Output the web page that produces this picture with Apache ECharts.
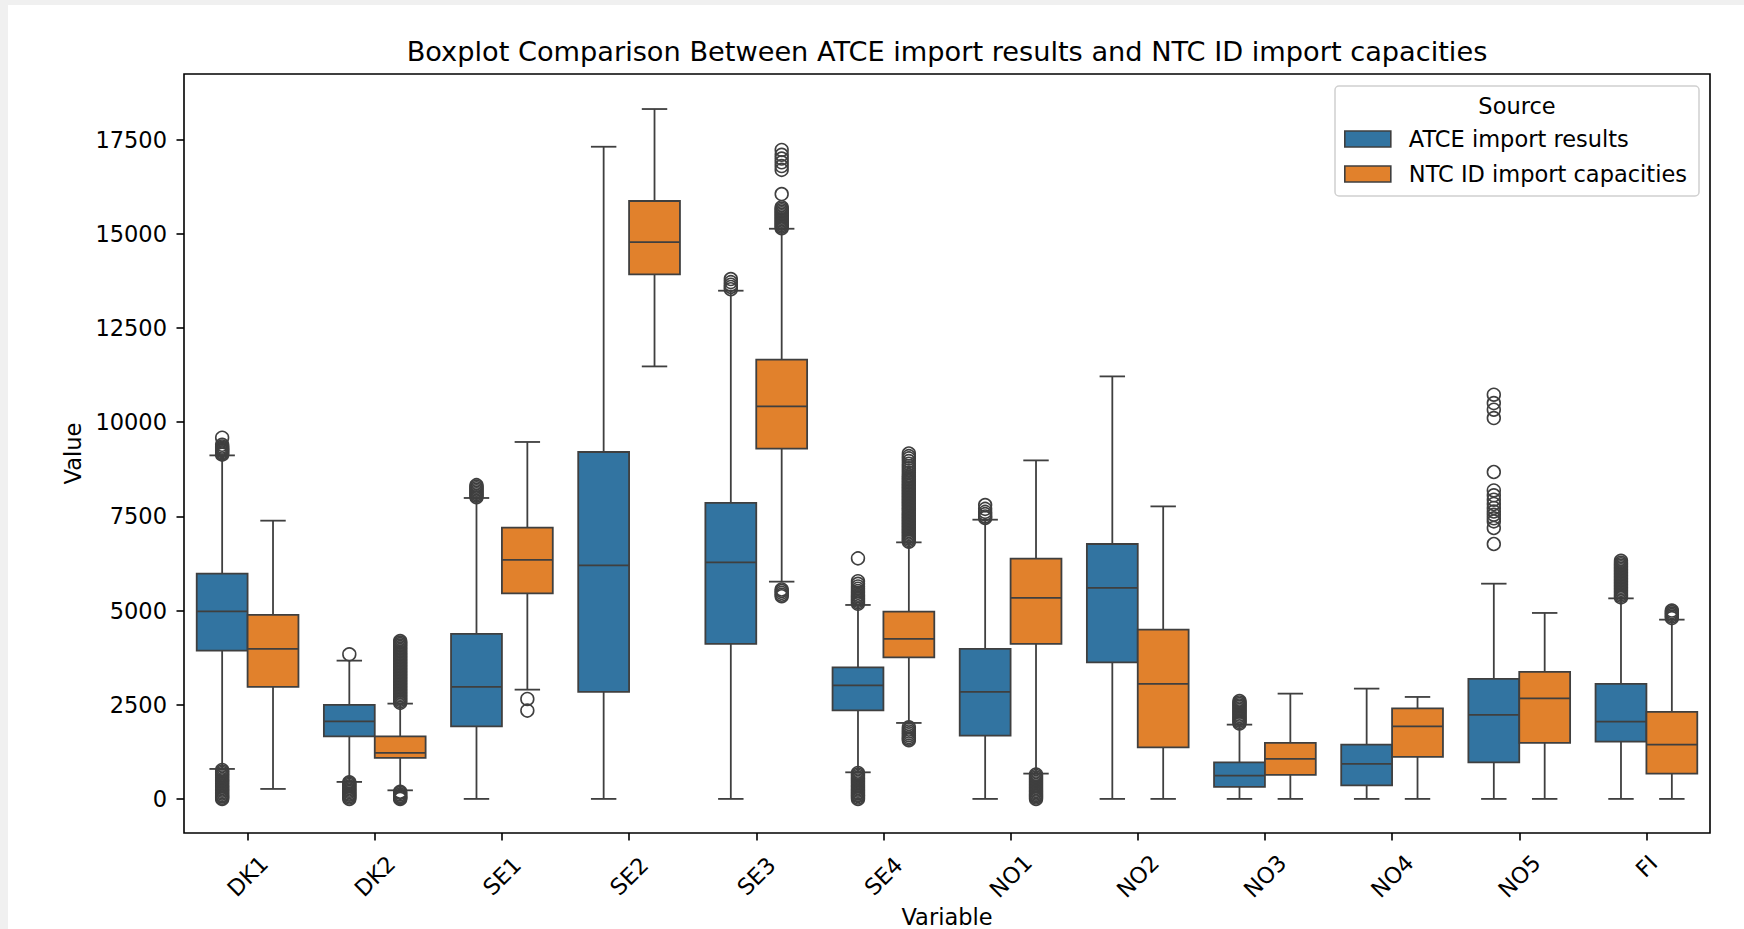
<!DOCTYPE html>
<html>
<head>
<meta charset="utf-8">
<title>Boxplot Comparison Between ATCE import results and NTC ID import capacities</title>
<script src="https://cdn.jsdelivr.net/npm/echarts@6/dist/echarts.min.js"></script>
<style>
  html, body { margin: 0; padding: 0; width: 1744px; height: 929px; overflow: hidden; background: #f0f0f0; }
  #chart { position: absolute; left: 8px; top: 5px; width: 1736px; height: 924px; background: #ffffff; }
</style>
</head>
<body>
<div id="chart"></div>
<script>
// Bidding zones on the x axis
const categories = ['DK1', 'DK2', 'SE1', 'SE2', 'SE3', 'SE4', 'NO1', 'NO2', 'NO3', 'NO4', 'NO5', 'FI'];
const sources = ['ATCE import results', 'NTC ID import capacities'];
const yTicks = [0, 2500, 5000, 7500, 10000, 12500, 15000, 17500];

// ATCE import results: whisker ends, quartiles and median per zone
const atceLow    = [796, 451, 0, 0, 0, 706, 0, 0, 0, 0, 0, 0];
const atceQ1     = [3936, 1662, 1927, 2840, 4114, 2352, 1680, 3626, 318, 361, 971, 1521];
const atceMedian = [4980, 2060, 2973, 6200, 6280, 3015, 2840, 5600, 618, 929, 2230, 2052];
const atceQ3     = [5980, 2495, 4380, 9210, 7857, 3493, 3981, 6768, 971, 1441, 3185, 3052];
const atceHigh   = [9120, 3671, 7989, 17314, 13492, 5149, 7413, 11217, 1972, 2928, 5714, 5324];

// NTC ID import capacities: whisker ends, quartiles and median per zone
const ntcLow    = [265, 228, 2901, 11482, 5768, 2017, 672, 0, 0, 0, 0, 0];
const ntcQ1     = [2973, 1088, 5457, 13925, 9298, 3759, 4114, 1370, 637, 1115, 1486, 672];
const ntcMedian = [3981, 1221, 6344, 14784, 10421, 4247, 5335, 3052, 1062, 1927, 2670, 1441];
const ntcQ3     = [4884, 1662, 7201, 15873, 11660, 4971, 6378, 4494, 1486, 2405, 3371, 2309];
const ntcHigh   = [7387, 2530, 9476, 18315, 15137, 6811, 8987, 7766, 2795, 2707, 4937, 4759];

// Points beyond the whiskers, one list per zone
const atceOutliers = [
  [0, 30, 65, 100, 140, 175, 215, 250, 290, 330, 365, 410, 450, 490, 525, 570, 610, 645, 690, 730, 770,
   9140, 9170, 9200, 9235, 9260, 9290, 9320, 9355, 9400, 9590],
  [0, 35, 70, 110, 140, 180, 215, 250, 290, 330, 370, 405, 440, 3838],
  [8010, 8050, 8090, 8130, 8170, 8210, 8250, 8290, 8330],
  [],
  [13530, 13590, 13650, 13720, 13800],
  [0, 35, 75, 105, 145, 175, 215, 250, 290, 330, 365, 410, 450, 490, 530, 565, 610, 650, 690,
   5180, 5220, 5260, 5300, 5340, 5380, 5420, 5470, 5520, 5580, 5640, 5710, 5780, 6386],
  [7460, 7500, 7560, 7620, 7700, 7800],
  [],
  [2000, 2040, 2080, 2120, 2160, 2200, 2240, 2285, 2320, 2360, 2400, 2445, 2480, 2520, 2560, 2600],
  [],
  [6768, 7193, 7368, 7450, 7546, 7630, 7724, 7830, 7944, 8060, 8190, 8679, 10111, 10333, 10508, 10731],
  [5350, 5390, 5430, 5470, 5510, 5550, 5590, 5630, 5670, 5710, 5750, 5790, 5830, 5870, 5910, 5950,
   5990, 6030, 6070, 6110, 6150, 6190, 6230, 6270, 6320]
];
const ntcOutliers = [
  [],
  [0, 25, 50, 80, 120, 160, 190,
   2550, 2590, 2630, 2670, 2710, 2750, 2790, 2830, 2870, 2910, 2950, 2990, 3030, 3070, 3110, 3150,
   3190, 3230, 3270, 3310, 3350, 3390, 3430, 3470, 3510, 3550, 3590, 3630, 3670, 3710, 3750, 3790,
   3830, 3870, 3910, 3950, 3990, 4030, 4070, 4110, 4150, 4190],
  [2344, 2654],
  [],
  [5380, 5420, 5470, 5520, 5560,
   15150, 15190, 15230, 15270, 15310, 15350, 15390, 15430, 15470, 15510, 15550, 15590, 15630, 15670, 15710,
   16058, 16700, 16800, 16900, 17000, 17100, 17230],
  [1560, 1600, 1640, 1690, 1740, 1790, 1840, 1900,
   6830, 6870, 6910, 6950, 6990, 7030, 7070, 7110, 7150, 7190, 7230, 7270, 7310, 7350, 7390, 7430,
   7470, 7510, 7550, 7590, 7630, 7670, 7710, 7750, 7790, 7830, 7870, 7910, 7950, 7990, 8030, 8070,
   8110, 8150, 8190, 8230, 8270, 8310, 8350, 8390, 8430, 8470, 8510, 8550,
   8600, 8660, 8720, 8780, 8840, 8900, 8970, 9040, 9100, 9170],
  [0, 35, 70, 105, 140, 175, 210, 250, 290, 330, 370, 410, 450, 490, 530, 570, 610, 650],
  [],
  [],
  [],
  [],
  [4800, 4840, 4880, 4920, 4960, 5000]
];

const FONT = 'DejaVu Sans';
const BOX_COLORS = ['#3274a1', '#e1812c'];
const LINE = '#3f3f3f';
const LW = 1.8;
const HUE_SHIFT = [-0.2, 0.2];   // box centre offset within a category band
const BOX_FRACTION = 0.4;         // box width as a share of the band

function boxRows(low, q1, med, q3, high) {
  return categories.map((c, i) => [i, low[i], q1[i], med[i], q3[i], high[i]]);
}
function flierRows(lists) {
  const rows = [];
  lists.forEach((vals, i) => vals.forEach(v => rows.push([i, v])));
  return rows;
}

function boxRenderer(shift, fill) {
  return function (params, api) {
    const idx = api.value(0);
    const band = api.size([1, 0])[0];
    const cx = api.coord([idx, 0])[0] + shift * band;
    const w = band * BOX_FRACTION;
    const yOf = k => api.coord([idx, api.value(k)])[1];
    const yLow = yOf(1), yQ1 = yOf(2), yMed = yOf(3), yQ3 = yOf(4), yHigh = yOf(5);
    const seg = (x1, y1, x2, y2) => ({
      type: 'line', shape: { x1, y1, x2, y2 }, style: { stroke: LINE, lineWidth: LW, lineCap: 'butt' }
    });
    return {
      type: 'group',
      children: [
        seg(cx, yQ1, cx, yLow),
        seg(cx - w / 4, yLow, cx + w / 4, yLow),
        seg(cx, yQ3, cx, yHigh),
        seg(cx - w / 4, yHigh, cx + w / 4, yHigh),
        { type: 'rect', shape: { x: cx - w / 2, y: yQ3, width: w, height: yQ1 - yQ3 },
          style: { fill: fill, stroke: LINE, lineWidth: LW } },
        seg(cx - w / 2, yMed, cx + w / 2, yMed)
      ]
    };
  };
}

function flierRenderer(shift) {
  return function (params, api) {
    const idx = api.value(0);
    const band = api.size([1, 0])[0];
    const p = api.coord([idx, api.value(1)]);
    return {
      type: 'circle',
      shape: { cx: p[0] + shift * band, cy: p[1], r: 6.4 },
      style: { fill: 'none', stroke: LINE, lineWidth: 1.6 }
    };
  };
}

const chart = echarts.init(document.getElementById('chart'), null, { renderer: 'svg' });

const labelText = { fontFamily: FONT, fontSize: 22.5, color: '#000' };

chart.setOption({
  animation: false,
  backgroundColor: '#ffffff',
  grid: {
    left: 176, top: 69, width: 1526, height: 759,
    show: true, borderColor: '#000', borderWidth: 1.6, backgroundColor: 'transparent',
    containLabel: false, outerBoundsMode: 'none'
  },
  xAxis: {
    type: 'category',
    data: categories,
    boundaryGap: true,
    axisLine: { show: false, onZero: false },
    axisTick: { show: true, alignWithLabel: true, interval: 0, length: 7.5, lineStyle: { color: '#000', width: 1.6 } },
    axisLabel: Object.assign({
      interval: 0, rotate: 45, align: 'center', verticalAlign: 'middle', margin: 43,
      formatter: v => (v.length < 3 ? '{s|' + v + '}' : v),
      rich: { s: { fontFamily: FONT, fontSize: 22.5, color: '#000', padding: [0, 0, 14, 14] } }
    }, labelText),
    splitLine: { show: false }
  },
  yAxis: {
    type: 'value',
    min: -905,
    max: 19245,
    axisLine: { show: false },
    splitLine: { show: false },
    axisTick: { show: true, length: 7.5, customValues: yTicks, lineStyle: { color: '#000', width: 1.6 } },
    axisLabel: Object.assign({ customValues: yTicks, margin: 17, formatter: v => String(v) }, labelText)
  },
  legend: {
    orient: 'vertical',
    left: 1336,
    top: 122,
    padding: 0,
    itemWidth: 46,
    itemHeight: 16,
    itemGap: 11,
    selectedMode: false,
    textStyle: Object.assign({ lineHeight: 24, padding: [0, 0, 0, 13] }, labelText),
    data: sources.map((s, i) => ({
      name: s, icon: 'rect',
      itemStyle: { color: BOX_COLORS[i], borderColor: LINE, borderWidth: 1.6 }
    }))
  },
  graphic: [
    { type: 'text', x: 939, y: 46,
      style: { text: 'Boxplot Comparison Between ATCE import results and NTC ID import capacities',
               fontFamily: FONT, fontSize: 27.2, fill: '#000', align: 'center', verticalAlign: 'middle' } },
    { type: 'text', x: 64.5, y: 448.5, rotation: Math.PI / 2,
      style: { text: 'Value', fontFamily: FONT, fontSize: 22.5, fill: '#000', align: 'center', verticalAlign: 'middle' } },
    { type: 'text', x: 939, y: 911.5,
      style: { text: 'Variable', fontFamily: FONT, fontSize: 22.5, fill: '#000', align: 'center', verticalAlign: 'middle' } },
    { type: 'rect', z: 3, shape: { x: 1327, y: 81, width: 364, height: 110, r: 4 },
      style: { fill: 'rgba(255,255,255,0.8)', stroke: '#d0d0d0', lineWidth: 1.5 } },
    { type: 'text', z: 4, x: 1509, y: 100.5,
      style: { text: 'Source', fontFamily: FONT, fontSize: 22.5, fill: '#000', align: 'center', verticalAlign: 'middle' } }
  ],
  series: [
    { type: 'custom', name: sources[0], z: 2, itemStyle: { color: BOX_COLORS[0] },
      encode: { x: 0, y: [1, 2, 3, 4, 5] },
      renderItem: boxRenderer(HUE_SHIFT[0], BOX_COLORS[0]),
      data: boxRows(atceLow, atceQ1, atceMedian, atceQ3, atceHigh) },
    { type: 'custom', name: sources[1], z: 2, itemStyle: { color: BOX_COLORS[1] },
      encode: { x: 0, y: [1, 2, 3, 4, 5] },
      renderItem: boxRenderer(HUE_SHIFT[1], BOX_COLORS[1]),
      data: boxRows(ntcLow, ntcQ1, ntcMedian, ntcQ3, ntcHigh) },
    { type: 'custom', name: sources[0], z: 2, itemStyle: { color: BOX_COLORS[0] },
      encode: { x: 0, y: 1 },
      renderItem: flierRenderer(HUE_SHIFT[0]),
      data: flierRows(atceOutliers) },
    { type: 'custom', name: sources[1], z: 2, itemStyle: { color: BOX_COLORS[1] },
      encode: { x: 0, y: 1 },
      renderItem: flierRenderer(HUE_SHIFT[1]),
      data: flierRows(ntcOutliers) }
  ]
});
</script>
</body>
</html>
